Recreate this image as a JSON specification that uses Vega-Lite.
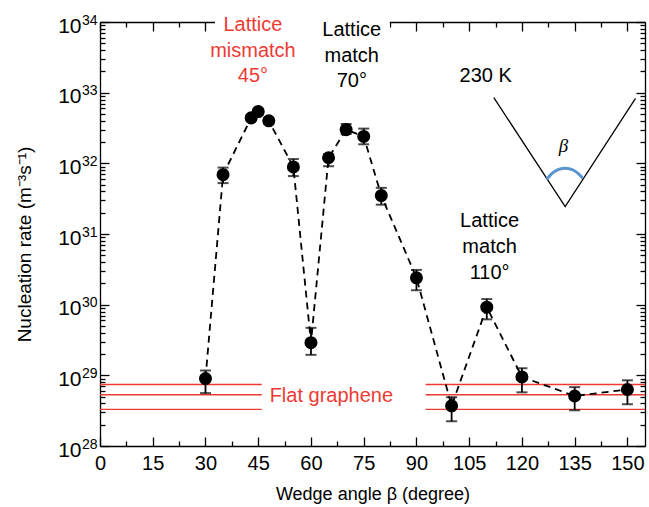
{
  "$schema": "https://vega.github.io/schema/vega-lite/v6.json",
  "width": 545,
  "height": 424,
  "autosize": {"type": "none"},
  "padding": {"left": 100, "top": 22, "right": 4, "bottom": 61},
  "background": "white",
  "config": {
    "view": {"stroke": null},
    "font": "Liberation Sans",
    "axis": {
      "domainColor": "black", "domainWidth": 1.3, "tickColor": "black", "tickWidth": 1.3,
      "labelColor": "black", "labelFont": "Liberation Sans", "labelFontSize": 20,
      "titleColor": "black", "titleFont": "Liberation Sans", "titleFontSize": 19, "titleFontWeight": "normal",
      "grid": false, "labelOverlap": false, "labelFlush": false
    }
  },
  "datasets": {
    "pts": [
      {"x": 30, "y": 9.0e28, "lo": 5.6e28, "hi": 1.17e29},
      {"x": 35, "y": 6.9e31, "lo": 5.25e31, "hi": 8.7e31},
      {"x": 43, "y": 4.4e32, "lo": 4.0e32, "hi": 4.8e32},
      {"x": 45, "y": 5.4e32, "lo": 4.9e32, "hi": 5.9e32},
      {"x": 48, "y": 4.0e32, "lo": 3.6e32, "hi": 4.4e32},
      {"x": 55, "y": 8.9e31, "lo": 6.6e31, "hi": 1.15e32},
      {"x": 60, "y": 2.9e29, "lo": 1.95e29, "hi": 4.7e29},
      {"x": 65, "y": 1.2e32, "lo": 9.1e31, "hi": 1.35e32},
      {"x": 70, "y": 3.0e32, "lo": 2.6e32, "hi": 3.6e32},
      {"x": 75, "y": 2.4e32, "lo": 1.86e32, "hi": 3.1e32},
      {"x": 80, "y": 3.5e31, "lo": 2.6e31, "hi": 4.5e31},
      {"x": 90, "y": 2.4e30, "lo": 1.6e30, "hi": 3.1e30},
      {"x": 100, "y": 3.7e28, "lo": 2.24e28, "hi": 4.9e28},
      {"x": 110, "y": 9.2e29, "lo": 6.2e29, "hi": 1.2e30},
      {"x": 120, "y": 9.5e28, "lo": 5.75e28, "hi": 1.26e29},
      {"x": 135, "y": 5.1e28, "lo": 3.2e28, "hi": 6.8e28},
      {"x": 150, "y": 6.3e28, "lo": 3.9e28, "hi": 8.5e28}
    ],
    "flat": [
      {"x": 0, "x2": 46, "y": 7.4e28},
      {"x": 0, "x2": 46, "y": 5.3e28},
      {"x": 0, "x2": 46, "y": 3.3e28},
      {"x": 92.6, "x2": 155, "y": 7.4e28},
      {"x": 92.6, "x2": 155, "y": 5.3e28},
      {"x": 92.6, "x2": 155, "y": 3.3e28}
    ],
    "gap": [{"x": 32.7, "x2": 82.4, "y": 1.25e34, "y2": 4e33}],
    "redtext": [
      {"x": 43.5, "y": 7.47e33, "t": "Lattice"},
      {"x": 43.5, "y": 3.2e33, "t": "mismatch"},
      {"x": 43.5, "y": 1.42e33, "t": "45°"},
      {"x": 65.8, "y": 4.18e28, "t": "Flat graphene"}
    ],
    "blacktext": [
      {"x": 71.6, "y": 6.4e33, "t": "Lattice"},
      {"x": 71.6, "y": 2.76e33, "t": "match"},
      {"x": 71.6, "y": 1.2e33, "t": "70°"},
      {"x": 110.8, "y": 1.25e31, "t": "Lattice"},
      {"x": 110.8, "y": 5.35e30, "t": "match"},
      {"x": 110.8, "y": 2.32e30, "t": "110°"},
      {"x": 109.7, "y": 1.43e33, "t": "230 K"}
    ],
    "wedge": [
      {"x": 112.0, "y": 8.5e32},
      {"x": 132.3, "y": 2.45e31},
      {"x": 152.3, "y": 8.3e32}
    ],
    "arc": [
      {"x": 127.1, "y": 5.96e31},
      {"x": 128.4, "y": 7.08e31},
      {"x": 130.1, "y": 8.07e31},
      {"x": 132.1, "y": 8.53e31},
      {"x": 134.1, "y": 8.2e31},
      {"x": 135.8, "y": 7.31e31},
      {"x": 137.3, "y": 6.15e31}
    ],
    "beta": [{"x": 131.8, "y": 1.45e32, "t": "β"}]
  },
  "resolve": {"axis": {"x": "independent", "y": "independent"}},
  "layer": [
    {
      "data": {"name": "flat"},
      "mark": {"type": "rule", "color": "#ee3a33", "strokeWidth": 1.4},
      "encoding": {
        "x": {"field": "x", "type": "quantitative", "scale": {"domain": [0, 155], "nice": false, "zero": false}, "axis": null},
        "x2": {"field": "x2"},
        "y": {"field": "y", "type": "quantitative", "scale": {"type": "log", "domain": [1e28, 1e34], "nice": false}, "axis": null}
      }
    },
    {
      "data": {"name": "pts"},
      "mark": {"type": "line", "color": "black", "strokeWidth": 1.8, "strokeDash": [7, 5]},
      "encoding": {
        "x": {"field": "x", "type": "quantitative", "scale": {"domain": [0, 155], "nice": false, "zero": false}, "axis": null},
        "y": {"field": "y", "type": "quantitative", "scale": {"type": "log", "domain": [1e28, 1e34], "nice": false},
          "axis": {"orient": "left", "title": null, "domain": false, "labels": false,
            "values": [1e28,2e28,3e28,4e28,5e28,6e28,7e28,8e28,9e28,1e29,2e29,3e29,4e29,5e29,6e29,7e29,8e29,9e29,1e30,2e30,3e30,4e30,5e30,6e30,7e30,8e30,9e30,1e31,2e31,3e31,4e31,5e31,6e31,7e31,8e31,9e31,1e32,2e32,3e32,4e32,5e32,6e32,7e32,8e32,9e32,1e33,2e33,3e33,4e33,5e33,6e33,7e33,8e33,9e33,1e34],
            "tickSize": {"condition": {"test": "abs(log(datum.value)/LN10 - round(log(datum.value)/LN10)) < 1e-6", "value": -9}, "value": -5}
          }
        }
      }
    },
    {
      "data": {"name": "pts"},
      "mark": {"type": "rule", "color": "black", "strokeWidth": 1.8},
      "encoding": {
        "x": {"field": "x", "type": "quantitative", "scale": {"domain": [0, 155], "nice": false, "zero": false},
          "axis": {"orient": "top", "title": null, "labels": false,
            "values": [0,7.5,15,22.5,30,37.5,45,52.5,60,67.5,75,82.5,90,97.5,105,112.5,120,127.5,135,142.5,150],
            "tickSize": {"condition": {"test": "datum.value % 15 === 0", "value": -9}, "value": -5}
          }
        },
        "y": {"field": "lo", "type": "quantitative", "scale": {"type": "log", "domain": [1e28, 1e34], "nice": false},
          "axis": {"orient": "right", "title": null, "labels": false,
            "values": [1e28,2e28,3e28,4e28,5e28,6e28,7e28,8e28,9e28,1e29,2e29,3e29,4e29,5e29,6e29,7e29,8e29,9e29,1e30,2e30,3e30,4e30,5e30,6e30,7e30,8e30,9e30,1e31,2e31,3e31,4e31,5e31,6e31,7e31,8e31,9e31,1e32,2e32,3e32,4e32,5e32,6e32,7e32,8e32,9e32,1e33,2e33,3e33,4e33,5e33,6e33,7e33,8e33,9e33,1e34],
            "tickSize": {"condition": {"test": "abs(log(datum.value)/LN10 - round(log(datum.value)/LN10)) < 1e-6", "value": -9}, "value": -5}
          }
        },
        "y2": {"field": "hi"}
      }
    },
    {
      "data": {"name": "pts"},
      "mark": {"type": "tick", "color": "black", "orient": "horizontal", "size": 11, "thickness": 2},
      "encoding": {
        "x": {"field": "x", "type": "quantitative", "scale": {"domain": [0, 155], "nice": false, "zero": false}, "axis": null},
        "y": {"field": "lo", "type": "quantitative", "scale": {"type": "log", "domain": [1e28, 1e34], "nice": false},
          "axis": {"orient": "left", "title": null, "domain": false, "ticks": false, "labelFontSize": 14, "labelAlign": "right", "labelBaseline": "middle", "labelPadding": 3, "labelOffset": -2,
            "values": [1e28,1e29,1e30,1e31,1e32,1e33,1e34],
            "labelExpr": "'' + round(log(datum.value)/LN10)"
          }
        }
      }
    },
    {
      "data": {"name": "pts"},
      "mark": {"type": "tick", "color": "black", "orient": "horizontal", "size": 11, "thickness": 2},
      "encoding": {
        "x": {"field": "x", "type": "quantitative", "scale": {"domain": [0, 155], "nice": false, "zero": false}, "axis": null},
        "y": {"field": "hi", "type": "quantitative", "scale": {"type": "log", "domain": [1e28, 1e34], "nice": false}, "axis": null}
      }
    },
    {
      "data": {"name": "pts"},
      "mark": {"type": "circle", "color": "black", "opacity": 1, "size": 170},
      "encoding": {
        "x": {"field": "x", "type": "quantitative", "scale": {"domain": [0, 155], "nice": false, "zero": false},
          "axis": {"orient": "bottom", "title": "Wedge angle β (degree)", "titlePadding": 8, "titleFontSize": 18,
            "values": [0,7.5,15,22.5,30,37.5,45,52.5,60,67.5,75,82.5,90,97.5,105,112.5,120,127.5,135,142.5,150],
            "labelExpr": "datum.value % 15 === 0 ? datum.label : ''",
            "labelPadding": 16,
            "tickSize": {"condition": {"test": "datum.value % 15 === 0", "value": -9}, "value": -5}
          }
        },
        "y": {"field": "y", "type": "quantitative", "scale": {"type": "log", "domain": [1e28, 1e34], "nice": false},
          "axis": {"orient": "left", "title": "Nucleation rate (m⁻³s⁻¹)", "titlePadding": 23, "titleY": 222, "ticks": false,
            "labelFontSize": 21, "labelAlign": "right", "labelBaseline": "middle", "labelPadding": 19, "labelOffset": 4,
            "values": [1e28,1e29,1e30,1e31,1e32,1e33,1e34],
            "labelExpr": "'10'"
          }
        }
      }
    },
    {
      "data": {"name": "gap"},
      "mark": {"type": "rect", "color": "white", "opacity": 1},
      "encoding": {
        "x": {"field": "x", "type": "quantitative", "scale": {"domain": [0, 155], "nice": false, "zero": false}, "axis": null},
        "x2": {"field": "x2"},
        "y": {"field": "y", "type": "quantitative", "scale": {"type": "log", "domain": [1e28, 1e34], "nice": false}, "axis": null},
        "y2": {"field": "y2"}
      }
    },
    {
      "data": {"name": "wedge"},
      "mark": {"type": "line", "color": "black", "strokeWidth": 1.3},
      "encoding": {
        "x": {"field": "x", "type": "quantitative", "scale": {"domain": [0, 155], "nice": false, "zero": false}, "axis": null},
        "y": {"field": "y", "type": "quantitative", "scale": {"type": "log", "domain": [1e28, 1e34], "nice": false}, "axis": null}
      }
    },
    {
      "data": {"name": "arc"},
      "mark": {"type": "line", "color": "#5a97cf", "strokeWidth": 3, "interpolate": "monotone"},
      "encoding": {
        "x": {"field": "x", "type": "quantitative", "scale": {"domain": [0, 155], "nice": false, "zero": false}, "axis": null},
        "y": {"field": "y", "type": "quantitative", "scale": {"type": "log", "domain": [1e28, 1e34], "nice": false}, "axis": null}
      }
    },
    {
      "data": {"name": "redtext"},
      "mark": {"type": "text", "color": "#ee3a33", "fontSize": 20, "align": "center", "baseline": "alphabetic", "font": "Liberation Sans"},
      "encoding": {
        "x": {"field": "x", "type": "quantitative", "scale": {"domain": [0, 155], "nice": false, "zero": false}, "axis": null},
        "y": {"field": "y", "type": "quantitative", "scale": {"type": "log", "domain": [1e28, 1e34], "nice": false}, "axis": null},
        "text": {"field": "t"}
      }
    },
    {
      "data": {"name": "blacktext"},
      "mark": {"type": "text", "color": "black", "fontSize": 20, "align": "center", "baseline": "alphabetic", "font": "Liberation Sans"},
      "encoding": {
        "x": {"field": "x", "type": "quantitative", "scale": {"domain": [0, 155], "nice": false, "zero": false}, "axis": null},
        "y": {"field": "y", "type": "quantitative", "scale": {"type": "log", "domain": [1e28, 1e34], "nice": false}, "axis": null},
        "text": {"field": "t"}
      }
    },
    {
      "data": {"name": "beta"},
      "mark": {"type": "text", "color": "black", "fontSize": 19, "fontStyle": "italic", "align": "center", "baseline": "alphabetic", "font": "Liberation Serif"},
      "encoding": {
        "x": {"field": "x", "type": "quantitative", "scale": {"domain": [0, 155], "nice": false, "zero": false}, "axis": null},
        "y": {"field": "y", "type": "quantitative", "scale": {"type": "log", "domain": [1e28, 1e34], "nice": false}, "axis": null},
        "text": {"field": "t"}
      }
    }
  ]
}
